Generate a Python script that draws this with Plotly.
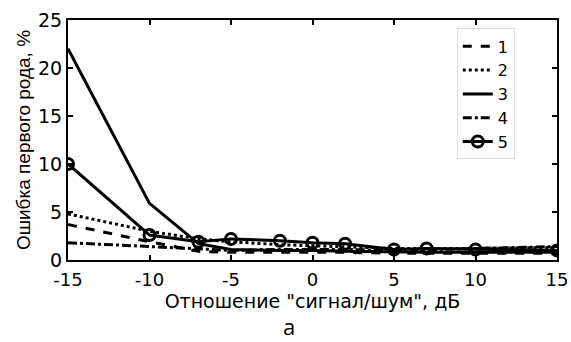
import plotly.graph_objects as go

snr = [-15, -10, -7, -5, -2, 0, 2, 5, 7, 10, 15]
s1 = [3.7, 1.9, 0.9, 0.8, 0.8, 0.8, 0.8, 0.7, 0.7, 0.7, 0.7]
s2 = [4.8, 3.0, 2.2, 1.9, 1.6, 1.5, 1.4, 1.2, 1.2, 1.2, 1.3]
s3 = [22.0, 5.9, 1.7, 1.1, 1.0, 1.0, 0.9, 0.8, 0.8, 0.8, 0.8]
s4 = [1.8, 1.4, 1.1, 1.0, 1.1, 1.1, 1.1, 1.0, 1.1, 1.2, 1.4]
s5 = [10.0, 2.6, 1.9, 2.2, 2.0, 1.8, 1.7, 1.1, 1.2, 1.1, 1.0]
names = ["1", "2", "3", "4", "5"]
xticks = [-15, -10, -5, 0, 5, 10, 15]
yticks = [0, 5, 10, 15, 20, 25]

WIDE = "DejaVu Sans, sans-serif"
NARROW = "Liberation Sans, Arial, sans-serif"
fig = go.Figure()
styles = ["dash", "dot", "solid", "dashdot", "solid"]
for name, ys, dash in zip(names, [s1, s2, s3, s4, s5], styles):
    if name == "5":
        fig.add_trace(go.Scatter(x=snr, y=ys, name=name, mode="lines+markers",
                                 line=dict(color="black", width=3, dash=dash),
                                 marker=dict(symbol="circle-open", size=11,
                                             line=dict(color="black", width=3))))
    else:
        fig.add_trace(go.Scatter(x=snr, y=ys, name=name, mode="lines",
                                 line=dict(color="black", width=3, dash=dash)))

axis_common = dict(showgrid=False, zeroline=False, showline=True, linecolor="black",
                   linewidth=2, mirror="ticks", ticks="inside", ticklen=5,
                   tickcolor="black", tickwidth=1.5, automargin=False)
fig.update_xaxes(range=[-15, 15], tickvals=xticks, ticktext=[str(v) for v in xticks],
                 ticklabelstandoff=2,
                 tickfont=dict(family=WIDE, size=18, color="black"),
                 title=dict(text='Отношение "сигнал/шум", дБ', standoff=0,
                            font=dict(family=WIDE, size=19, color="black")),
                 **axis_common)
fig.update_yaxes(range=[0, 25], tickvals=yticks, ticktext=[str(v) for v in yticks],
                 tickfont=dict(family=WIDE, size=19, color="black"),
                 title=dict(text="Ошибка первого рода, %", standoff=2,
                            font=dict(family=NARROW, size=19, color="black")),
                 **axis_common)
fig.add_annotation(text="а", xref="paper", yref="paper", x=0.452, y=-0.34,
                   showarrow=False, xanchor="center", yanchor="bottom", borderpad=0,
                   font=dict(family="Open Sans, sans-serif", size=22, color="black"))
fig.update_layout(width=571, height=342, margin=dict(l=68, r=14, t=20, b=82),
                  plot_bgcolor="white", paper_bgcolor="white",
                  font=dict(family=WIDE, color="black"),
                  legend=dict(x=0.795, y=0.965, xanchor="left", yanchor="top",
                              bgcolor="white", bordercolor="#dddddd", borderwidth=1,
                              font=dict(family=WIDE, size=16, color="black"),
                              tracegroupgap=0, itemwidth=30))
fig.write_html("out.html", post_script="document.body.style.margin='0px';",
               config={"displayModeBar": False})
